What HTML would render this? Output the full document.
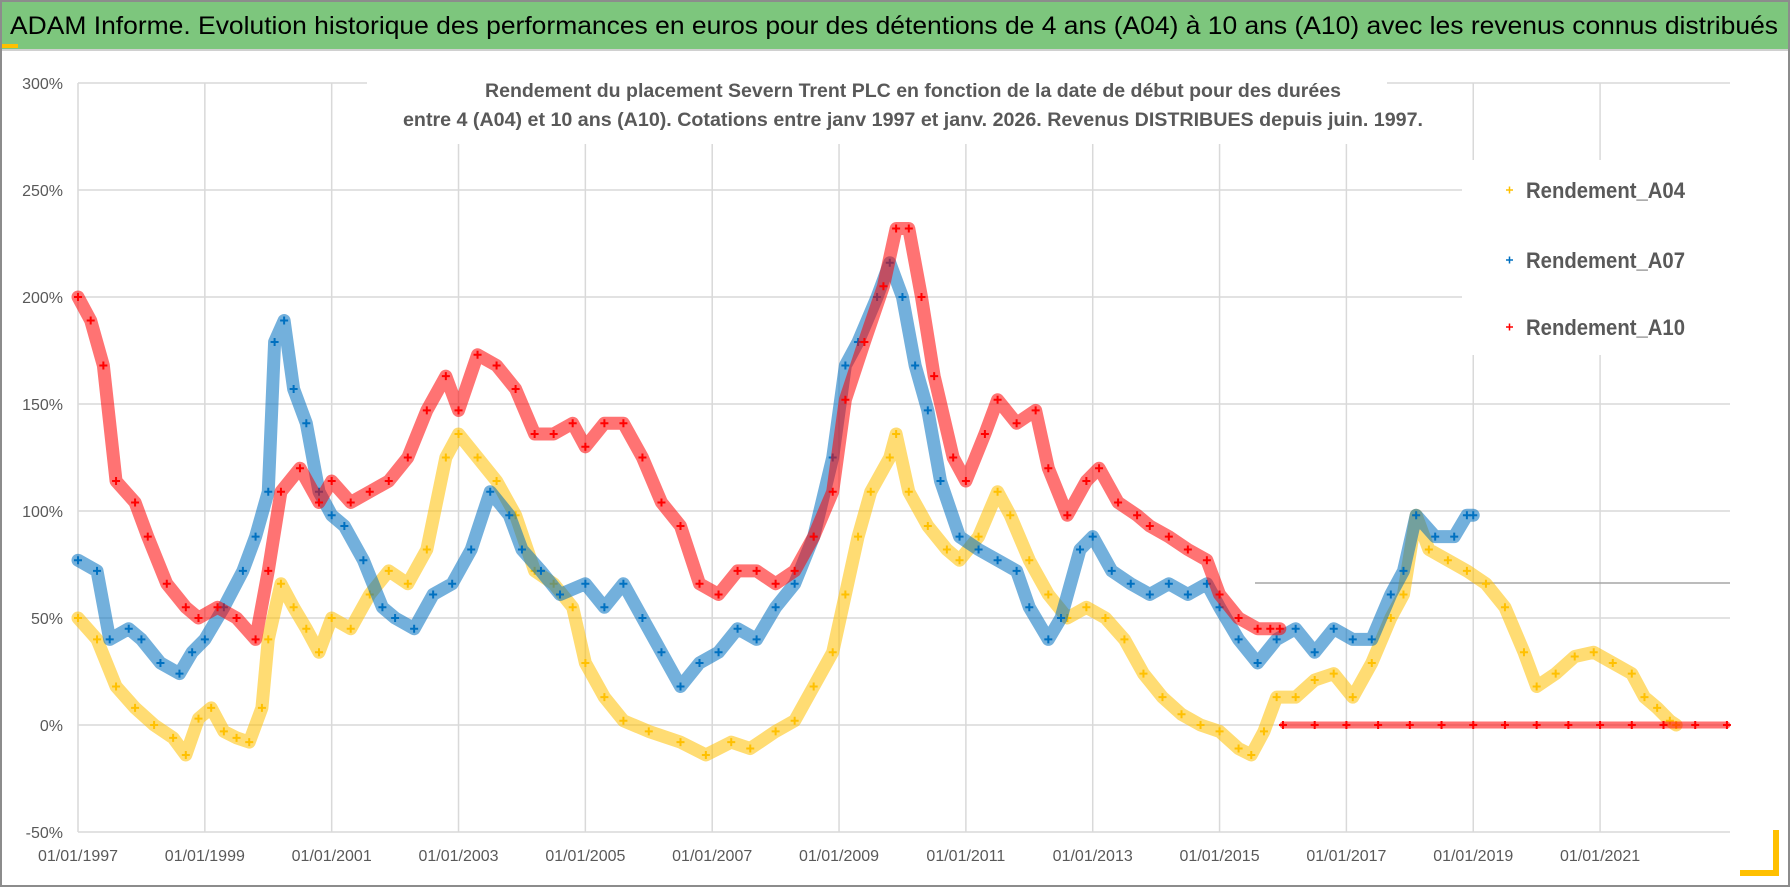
<!DOCTYPE html>
<html><head><meta charset="utf-8"><style>
html,body{margin:0;padding:0;background:#fff;}
svg{display:block;font-family:"Liberation Sans",sans-serif;}
</style></head><body>
<svg id="chart" width="1790" height="887" viewBox="0 0 1790 887">
<rect x="0" y="0" width="1790" height="887" fill="#fff"/>
<rect x="1" y="1" width="1788" height="885" fill="none" stroke="#8c8c8c" stroke-width="2"/>
<rect x="2" y="2" width="1786" height="47" fill="#7dc67d"/>
<rect x="2" y="49" width="1786" height="2" fill="#d0d0d0"/>
<rect x="2" y="44" width="16" height="4" fill="#ffc000"/>
<text x="10" y="34" font-size="25" fill="#000" textLength="1768" lengthAdjust="spacingAndGlyphs">ADAM Informe. Evolution historique des performances en euros pour des détentions de 4 ans (A04) à 10 ans (A10) avec les revenus connus distribués</text>
<g id="grid"></g>
<rect x="367" y="68" width="1020" height="76" fill="#fff"/>
<text x="913" y="97" text-anchor="middle" font-size="19" font-weight="bold" fill="#595959" textLength="856" lengthAdjust="spacingAndGlyphs">Rendement du placement Severn Trent PLC en fonction de la date de début pour des durées</text>
<text x="913" y="126" text-anchor="middle" font-size="19" font-weight="bold" fill="#595959" textLength="1020" lengthAdjust="spacingAndGlyphs">entre 4 (A04) et 10 ans (A10).  Cotations entre janv 1997 et janv. 2026. Revenus DISTRIBUES depuis juin. 1997.</text>
<line x1="1255" y1="583" x2="1730" y2="583" stroke="#a6a6a6" stroke-width="1.5"/>
<g id="series"></g>
<rect x="1462" y="160" width="272" height="195" fill="#fff"/>
<g><path d="M1506 190h7M1509.5 186.5v7" stroke="#ffc000" stroke-width="1.5"/><text x="1526" y="198" font-size="22" font-weight="bold" fill="#595959" textLength="159" lengthAdjust="spacingAndGlyphs">Rendement_A04</text></g>
<g><path d="M1506 260h7M1509.5 256.5v7" stroke="#0070c0" stroke-width="1.5"/><text x="1526" y="268" font-size="22" font-weight="bold" fill="#595959" textLength="159" lengthAdjust="spacingAndGlyphs">Rendement_A07</text></g>
<g><path d="M1506 327h7M1509.5 323.5v7" stroke="#ff0000" stroke-width="1.5"/><text x="1526" y="335" font-size="22" font-weight="bold" fill="#595959" textLength="159" lengthAdjust="spacingAndGlyphs">Rendement_A10</text></g>
<rect x="1773" y="830" width="6" height="46" fill="#ffc000"/>
<rect x="1740" y="870" width="39" height="6" fill="#ffc000"/>
</svg>
<script>
const yTicks=[-50,0,50,100,150,200,250,300];
const xTickYears=[1997,1999,2001,2003,2005,2007,2009,2011,2013,2015,2017,2019,2021];
const a04T=[1997.0,1997.3,1997.6,1997.9,1998.2,1998.5,1998.7,1998.9,1999.1,1999.3,1999.5,1999.7,1999.9,2000.0,2000.2,2000.4,2000.6,2000.8,2001.0,2001.3,2001.6,2001.9,2002.2,2002.5,2002.8,2003.0,2003.3,2003.6,2003.9,2004.2,2004.5,2004.8,2005.0,2005.3,2005.6,2006.0,2006.5,2006.9,2007.3,2007.6,2008.0,2008.3,2008.6,2008.9,2009.1,2009.3,2009.5,2009.8,2009.9,2010.1,2010.4,2010.7,2010.9,2011.2,2011.5,2011.7,2012.0,2012.3,2012.6,2012.9,2013.2,2013.5,2013.8,2014.1,2014.4,2014.7,2015.0,2015.3,2015.5,2015.7,2015.9,2016.2,2016.5,2016.8,2017.1,2017.4,2017.7,2017.9,2018.1,2018.3,2018.6,2018.9,2019.2,2019.5,2019.8,2020.0,2020.3,2020.6,2020.9,2021.2,2021.5,2021.7,2021.9,2022.1,2022.2];
const a04V=[50,40,18,8,0,-6,-14,3,8,-3,-6,-8,8,40,66,55,45,34,50,45,61,72,66,82,125,136,125,114,98,72,66,55,29,13,2,-3,-8,-14,-8,-11,-3,2,18,34,61,88,109,125,136,109,93,82,77,88,109,98,77,61,50,55,50,40,24,13,5,0,-3,-11,-14,-3,13,13,21,24,13,29,50,61,98,82,77,72,66,55,34,18,24,32,34,29,24,13,8,2,0];
const a07T=[1997.0,1997.3,1997.5,1997.8,1998.0,1998.3,1998.6,1998.8,1999.0,1999.3,1999.6,1999.8,2000.0,2000.1,2000.25,2000.4,2000.6,2000.8,2001.0,2001.2,2001.5,2001.8,2002.0,2002.3,2002.6,2002.9,2003.2,2003.5,2003.8,2004.0,2004.3,2004.6,2005.0,2005.3,2005.6,2005.9,2006.2,2006.5,2006.8,2007.1,2007.4,2007.7,2008.0,2008.3,2008.6,2008.9,2009.1,2009.3,2009.6,2009.8,2010.0,2010.2,2010.4,2010.6,2010.9,2011.2,2011.5,2011.8,2012.0,2012.3,2012.5,2012.8,2013.0,2013.3,2013.6,2013.9,2014.2,2014.5,2014.8,2015.0,2015.3,2015.6,2015.9,2016.2,2016.5,2016.8,2017.1,2017.4,2017.7,2017.9,2018.1,2018.4,2018.7,2018.9,2019.0];
const a07V=[77,72,40,45,40,29,24,34,40,55,72,88,109,179,189,157,141,109,98,93,77,55,50,45,61,66,82,109,98,82,72,61,66,55,66,50,34,18,29,34,45,40,55,66,88,125,168,179,200,216,200,168,147,114,88,82,77,72,55,40,50,82,88,72,66,61,66,61,66,55,40,29,40,45,34,45,40,40,61,72,98,88,88,98,98];
const a10T=[1997.0,1997.2,1997.4,1997.6,1997.9,1998.1,1998.4,1998.7,1998.9,1999.2,1999.5,1999.8,2000.0,2000.2,2000.5,2000.8,2001.0,2001.3,2001.6,2001.9,2002.2,2002.5,2002.8,2003.0,2003.3,2003.6,2003.9,2004.2,2004.5,2004.8,2005.0,2005.3,2005.6,2005.9,2006.2,2006.5,2006.8,2007.1,2007.4,2007.7,2008.0,2008.3,2008.6,2008.9,2009.1,2009.4,2009.7,2009.9,2010.1,2010.3,2010.5,2010.8,2011.0,2011.3,2011.5,2011.8,2012.1,2012.3,2012.6,2012.9,2013.1,2013.4,2013.7,2013.9,2014.2,2014.5,2014.8,2015.0,2015.3,2015.6,2015.8,2015.95];
const a10V=[200,189,168,114,104,88,66,55,50,55,50,40,72,109,120,104,114,104,109,114,125,147,163,147,173,168,157,136,136,141,130,141,141,125,104,93,66,61,72,72,66,72,88,109,152,179,205,232,232,200,163,125,114,136,152,141,147,120,98,114,120,104,98,93,88,82,77,61,50,45,45,45];
const zeroT=[2016.0,2016.5,2017.0,2017.5,2018.0,2018.5,2019.0,2019.5,2020.0,2020.5,2021.0,2021.5,2022.0,2022.5,2023.0];
const zeroV=[0,0,0,0,0,0,0,0,0,0,0,0,0,0,0];

const NS='http://www.w3.org/2000/svg';
function xs(t){return 78+(t-1997)*63.42;}
function ys(v){return 83+(300-v)*2.14;}
const grid=document.getElementById('grid');
const ser=document.getElementById('series');
yTicks.forEach(v=>{
  const l=document.createElementNS(NS,'line');
  l.setAttribute('x1',78);l.setAttribute('x2',1730);l.setAttribute('y1',ys(v));l.setAttribute('y2',ys(v));
  l.setAttribute('stroke','#d9d9d9');l.setAttribute('stroke-width','1.5');
  
  
  grid.appendChild(l);
  const t=document.createElementNS(NS,'text');
  t.setAttribute('x',63);t.setAttribute('y',ys(v)+6);t.setAttribute('text-anchor','end');
  t.setAttribute('font-size','16');t.setAttribute('fill','#595959');
  t.textContent=v+'%';
  
  
  grid.appendChild(t);
});
xTickYears.forEach(yr=>{
  const l=document.createElementNS(NS,'line');
  l.setAttribute('x1',xs(yr));l.setAttribute('x2',xs(yr));l.setAttribute('y1',ys(300));l.setAttribute('y2',ys(-50));
  l.setAttribute('stroke','#d9d9d9');l.setAttribute('stroke-width','1.5');
  
  
  grid.appendChild(l);
  const t=document.createElementNS(NS,'text');
  t.setAttribute('x',xs(yr));t.setAttribute('y',861);t.setAttribute('text-anchor','middle');
  t.setAttribute('font-size','16');t.setAttribute('fill','#595959');
  t.textContent='01/01/'+yr;
  
  
  grid.appendChild(t);
});
function drawSeries(T,V,color,name,bandW){
  const g=document.createElementNS(NS,'g');
  
  
  const pl=document.createElementNS(NS,'polyline');
  pl.setAttribute('points',T.map((t,i)=>xs(t)+','+ys(V[i])).join(' '));
  pl.setAttribute('fill','none');pl.setAttribute('stroke',color);pl.setAttribute('stroke-width',bandW);
  pl.setAttribute('stroke-opacity','0.55');pl.setAttribute('stroke-linejoin','round');pl.setAttribute('stroke-linecap','round');
  
  
  g.appendChild(pl);
  T.forEach((t,i)=>{
    const x=xs(t),y=ys(V[i]);
    const p=document.createElementNS(NS,'path');
    p.setAttribute('d','M'+(x-4)+' '+y+'h8M'+x+' '+(y-4)+'v8');
    p.setAttribute('stroke',color);p.setAttribute('stroke-width','2');
    
    
    g.appendChild(p);
  });
  ser.appendChild(g);
}
drawSeries(a04T,a04V,'#ffc000','series-a04',13);
drawSeries(a07T,a07V,'#0070c0','series-a07',13);
drawSeries(a10T,a10V,'#ff0000','series-a10',13);
drawSeries(zeroT,zeroV,'#ff0000','series-a10-zero',7);
</script>
</body></html>
